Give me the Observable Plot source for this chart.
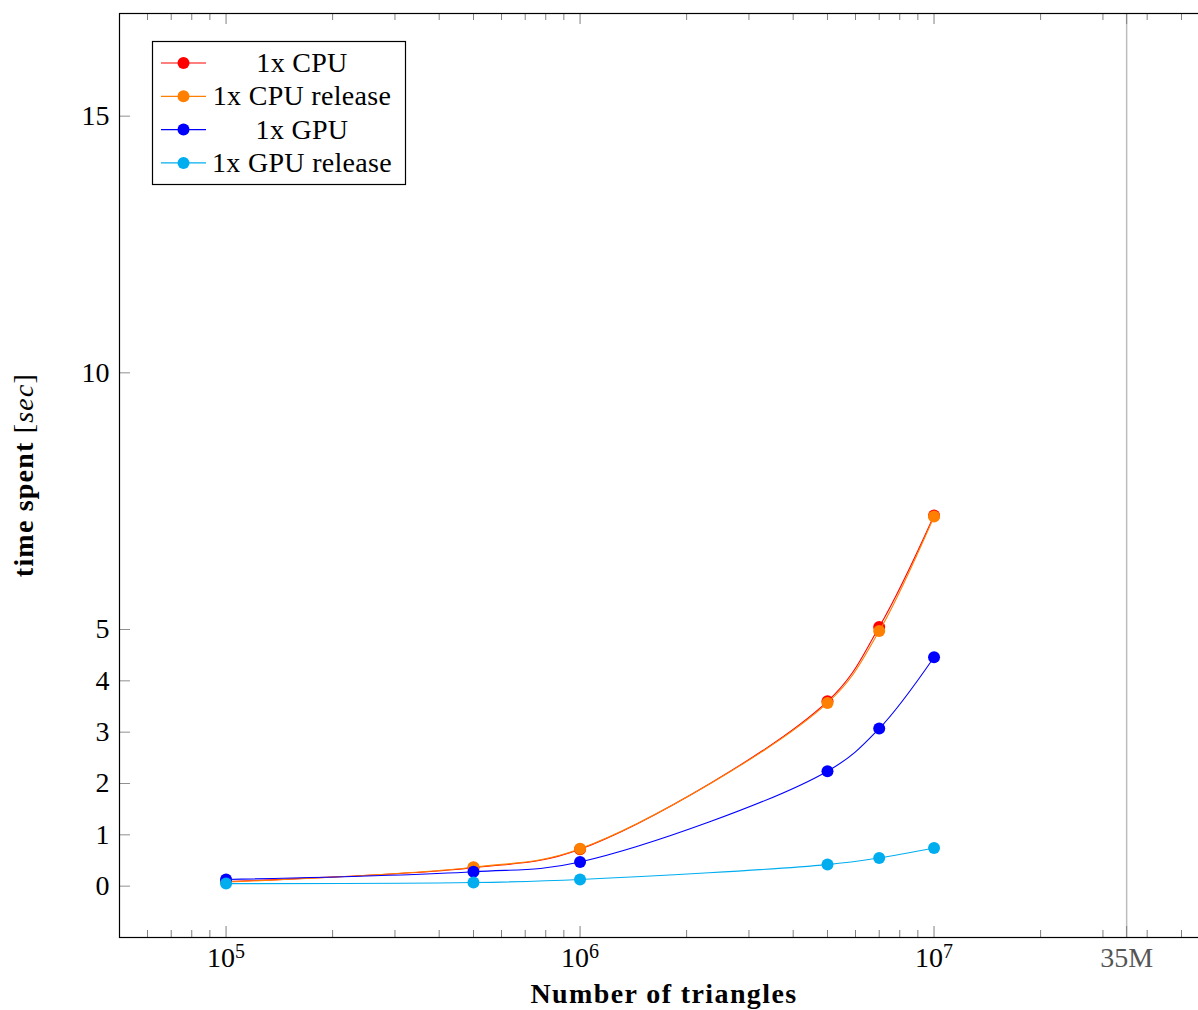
<!DOCTYPE html>
<html><head><meta charset="utf-8">
<script src="https://cdn.jsdelivr.net/npm/d3@7"></script>
<script src="https://cdn.jsdelivr.net/npm/@observablehq/plot@0.6"></script>
<style>
body{margin:0;background:#fff}
#wrap{position:relative;width:1198px;height:1010px;overflow:hidden}
#wrap svg{max-width:none !important;width:1210px;height:1010px;display:block}
</style>
</head><body><div id="wrap"></div>
<script>
// ---- data ----
const triangles = [1e5, 5e5, 1e6, 5e6, 7e6, 1e7];
const cpu        = [0.09, 0.36, 0.72, 3.60, 5.05, 7.22];
const cpuRelease = [0.08, 0.37, 0.73, 3.57, 4.97, 7.20];
const gpu        = [0.13, 0.28, 0.47, 2.24, 3.07, 4.46];
const gpuRelease = [0.05, 0.07, 0.13, 0.42, 0.55, 0.745];
const seriesNames  = ["1x CPU", "1x CPU release", "1x GPU", "1x GPU release"];
const seriesValues = [cpu, cpuRelease, gpu, gpuRelease];
const seriesColors = ["#ff0000", "#ff7f00", "#0000ff", "#00aeef"];
const xMajorTicks = [1e5, 1e6, 1e7];
const xMajorExponents = ["5", "6", "7"];
const xMinorTicks = [6e4, 7e4, 8e4, 9e4, 2e5, 3e5, 4e5, 5e5, 6e5, 7e5, 8e5, 9e5,
                     2e6, 3e6, 4e6, 5e6, 6e6, 7e6, 8e6, 9e6, 2e7, 3e7, 4e7, 5e7];
const markerX = [35e6];
const markerLabel = "35M";
const yTicks = [0, 1, 2, 3, 4, 5, 10, 15];
const xDomain = [5e4, 6e7];
const yDomain = [-1, 17];
const xTitle = "Number of triangles";

// ---- layout ----
const W = 1210, H = 1010;
const mL = 119, mR = 1, mT = 13, mB = 73;
const plotW = W - mL - mR, plotH = H - mT - mB;
const FONT = "'Liberation Serif', 'Times New Roman', serif";

const marks = [];
marks.push(Plot.ruleX(markerX, {x: d => d, stroke: "#bdbdbd", strokeWidth: 1.5}));
// ticks (inward)
marks.push(Plot.tickX(xMinorTicks, {x: d => d, insetTop: plotH - 7, stroke: "#808080", strokeWidth: 1}));
marks.push(Plot.tickX(xMinorTicks, {x: d => d, insetBottom: plotH - 7, stroke: "#808080", strokeWidth: 1}));
marks.push(Plot.tickX(xMajorTicks.concat(markerX), {x: d => d, insetTop: plotH - 11, stroke: "#808080", strokeWidth: 1}));
marks.push(Plot.tickX(xMajorTicks.concat(markerX), {x: d => d, insetBottom: plotH - 11, stroke: "#808080", strokeWidth: 1}));
marks.push(Plot.tickY(yTicks, {y: d => d, insetRight: plotW - 11, stroke: "#909090", strokeWidth: 1}));
// axis labels
marks.push(Plot.axisX(xMajorTicks, {tickSize: 0, tickPadding: 10, tickFormat: d => "10^" + xMajorExponents[xMajorTicks.indexOf(d)], label: null, fill: "#000"}));
marks.push(Plot.axisX(markerX, {tickSize: 0, tickPadding: 10, tickFormat: () => markerLabel, label: null, fill: "#555"}));
marks.push(Plot.axisY(yTicks, {tickSize: 0, tickPadding: 10, tickFormat: d => String(d), label: null, fill: "#000"}));
// series
seriesValues.forEach((vals, k) => {
  const rows = triangles.map((t, i) => ({x: t, y: vals[i]}));
  marks.push(Plot.line(rows, {x: "x", y: "y", stroke: seriesColors[k], strokeWidth: 1.1, curve: "catmull-rom"}));
  marks.push(Plot.dot(rows, {x: "x", y: "y", fill: seriesColors[k], r: 6}));
});
marks.push(Plot.frame({stroke: "#000", strokeWidth: 1.2}));

const chart = Plot.plot({
  width: W, height: H,
  marginLeft: mL, marginRight: mR, marginTop: mT, marginBottom: mB,
  style: {fontFamily: FONT, fontSize: "28px", background: "#fff", color: "#000", maxWidth: "none"},
  x: {type: "log", domain: xDomain},
  y: {domain: yDomain},
  marks
});

const svg = d3.select(chart);
// render "10^n" labels with a real superscript
svg.selectAll("text").each(function() {
  const t = this.textContent;
  const m = /^10\^(\d+)$/.exec(t);
  if (!m) return;
  const sel = d3.select(this);
  sel.text(null);
  sel.append("tspan").text("10");
  sel.append("tspan").attr("dy", "-0.45em").attr("font-size", "20px").text(m[1]);
});
// y title
const yt = svg.append("text")
  .attr("transform", `translate(33,${mT + plotH / 2}) rotate(-90)`)
  .attr("text-anchor", "middle").attr("letter-spacing", "1.2px")
  .attr("font-family", FONT).attr("font-size", 28).attr("fill", "#000");
yt.append("tspan").attr("font-weight", "bold").text("time spent ");
yt.append("tspan").text("[");
yt.append("tspan").attr("font-style", "italic").text("sec");
yt.append("tspan").text("]");
// x title
svg.append("text")
  .attr("x", mL + plotW / 2).attr("y", 1003)
  .attr("text-anchor", "middle").attr("font-weight", "bold")
  .attr("letter-spacing", "1.4px")
  .attr("font-family", FONT).attr("font-size", 28).attr("fill", "#000")
  .text(xTitle);
// legend
const lg = svg.append("g");
lg.append("rect").attr("x", 152.5).attr("y", 41.5).attr("width", 253).attr("height", 143)
  .attr("fill", "#fff").attr("stroke", "#000").attr("stroke-width", 1.2);
seriesNames.forEach((name, k) => {
  const cy = 63 + k * 33.3;
  lg.append("line").attr("x1", 161).attr("x2", 206).attr("y1", cy).attr("y2", cy)
    .attr("stroke", seriesColors[k]).attr("stroke-width", 1.2);
  lg.append("circle").attr("cx", 183.5).attr("cy", cy).attr("r", 6).attr("fill", seriesColors[k]);
  lg.append("text").attr("x", 302).attr("y", cy + 9).attr("text-anchor", "middle")
    .attr("letter-spacing", "0.3px")
    .attr("font-family", FONT).attr("font-size", 28).attr("fill", "#000").text(name);
});

document.getElementById("wrap").appendChild(chart);
</script>
</body></html>
